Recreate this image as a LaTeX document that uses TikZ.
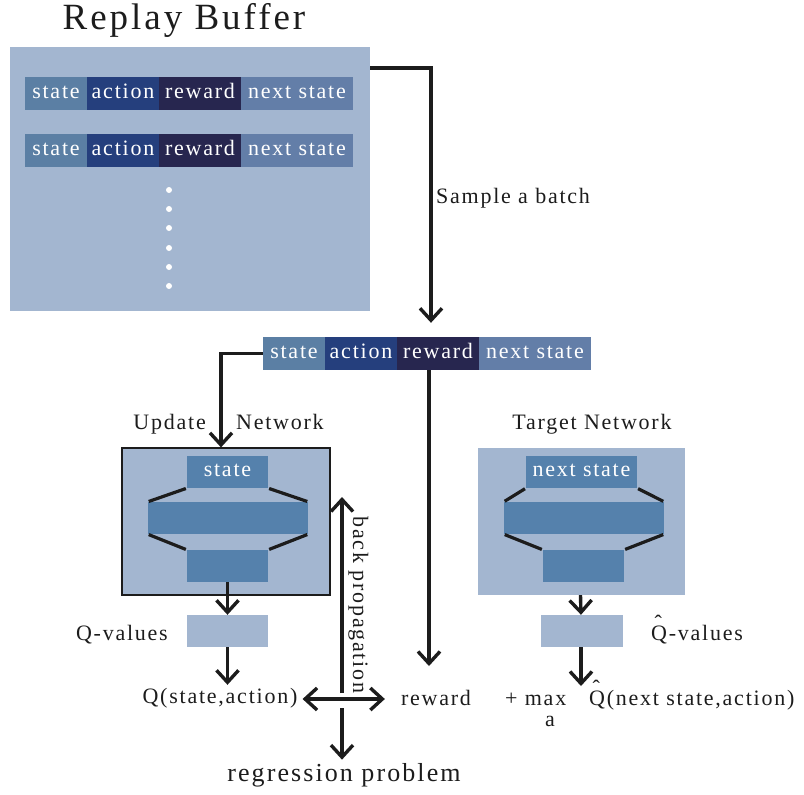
\documentclass[tikz,border=0pt]{standalone}
\usepackage{fontspec}
\setmainfont{Liberation Serif}[LetterSpace=8]
\usetikzlibrary{arrows.meta,calc}
\newcommand\fsz[1]{\fontsize{#1pt}{#1pt}\selectfont}
% Q with a small circumflex set high above it
\newcommand\Qhat{\makebox[0pt][l]{\hspace{0.16em}\raisebox{0.42em}{\char"02C6}}Q}
\definecolor{bufbg}{HTML}{A3B6D0}
\definecolor{cstate}{HTML}{5B7FA4}
\definecolor{caction}{HTML}{253F7D}
\definecolor{creward}{HTML}{27264F}
\definecolor{cnext}{HTML}{637EA8}
\definecolor{layer}{HTML}{5581AC}
\definecolor{ink}{HTML}{1C1C1C}
\tikzset{
  cell/.style={minimum height=33pt, inner sep=0pt, text=white, font=\fsz{22},
    text height=14pt, text depth=5pt},
  layerbox/.style={fill=layer, inner sep=0pt, text=white, font=\fsz{22},
    text height=14pt, text depth=5pt},
  lbl/.style={font=\fsz{22}, text=ink, inner sep=1pt,
    text height=15pt, text depth=5pt},
  arr/.style={draw=ink, line width=3.4pt,
    -{Straight Barb[length=12pt,width=22pt]}},
  link/.style={draw=ink, line width=3.2pt, shorten <=1pt, shorten >=1pt},
}
\begin{document}
\begin{tikzpicture}[x=1pt,y=-1pt]
\useasboundingbox (0,0) rectangle (804,795);

% ---------- replay buffer ----------
\node[font=\fsz{37}, text=ink] (title) at (184,20) {Replay Buffer};
\node[fill=bufbg, minimum width=360pt, minimum height=264pt, inner sep=0pt]
  (buf) at (190,179) {};

\foreach \r/\y in {a/93.5, b/150.5} {
  \node[cell, fill=cstate,  minimum width=62pt]  (s\r) at (56,\y)  {state};
  \node[cell, fill=caction, minimum width=72pt]  (a\r) at (123,\y) {action};
  \node[cell, fill=creward, minimum width=82pt]  (w\r) at (200,\y) {reward};
  \node[cell, fill=cnext,   minimum width=112pt] (n\r) at (297,\y) {next state};
}
\foreach \y in {190,209,228,248,267,286}
  \fill[white] (169,\y) circle (3pt);

% ---------- sampled batch ----------
\node[cell, fill=cstate,  minimum width=62pt]  (bs) at (294,353.5) {state};
\node[cell, fill=caction, minimum width=72pt]  (ba) at (361,353.5) {action};
\node[cell, fill=creward, minimum width=82pt]  (br) at (438,353.5) {reward};
\node[cell, fill=cnext,   minimum width=112pt] (bn) at (535,353.5) {next state};

\draw[arr, shorten >=14pt] ($(buf.north east)+(0,21)$) -| ([xshift=-7pt]br.north);
\node[lbl, anchor=west] (sample) at (435,198) {Sample a batch};

% ---------- update network ----------
\node[lbl, anchor=east] (upd1) at (207,424) {Update};
\node[lbl, anchor=west] (upd2) at (235,424) {Network};
\node[draw=ink, line width=1.2pt, fill=bufbg, minimum width=208pt,
  minimum height=147pt, inner sep=0pt] (ub) at (226,521.5) {};
\node[layerbox, minimum width=81pt, minimum height=32pt] (us) at (227.5,472) {state};
\node[layerbox, minimum width=160pt, minimum height=32pt] (um) at (228,518) {};
\node[layerbox, minimum width=81pt, minimum height=32pt] (ul) at (227.5,566) {};
\draw[link] (us.south west) -- (um.north west);
\draw[link] (us.south east) -- (um.north east);
\draw[link] (um.south west) -- (ul.north west);
\draw[link] (um.south east) -- (ul.north east);

\draw[arr] (bs.west) -| ([xshift=-5pt]ub.north);

\node[fill=bufbg, minimum width=81pt, minimum height=32pt, inner sep=0pt]
  (qv) at (227.5,631) {};
\node[lbl, anchor=east] (qvl) at (169,635) {Q-values};
\draw[arr] (ul.south) -- (qv.north);

\node[lbl] (qsa) at (220,698) {Q(state,action)};
\draw[arr, shorten >=2pt] (qv.south) -- (qsa.north -| qv.south);

% ---------- target network ----------
\node[lbl] (tgt) at (592,424) {Target Network};
\node[fill=bufbg, minimum width=207pt, minimum height=147pt, inner sep=0pt]
  (tb) at (581.5,521.5) {};
\node[layerbox, minimum width=111pt, minimum height=32pt] (ts) at (581.5,472) {next state};
\node[layerbox, minimum width=160pt, minimum height=32pt] (tm) at (584,518) {};
\node[layerbox, minimum width=81pt, minimum height=32pt] (tl) at (583.5,566) {};
\draw[link] (ts.south west) -- (tm.north west);
\draw[link] (ts.south east) -- (tm.north east);
\draw[link] (tm.south west) -- (tl.north west);
\draw[link] (tm.south east) -- (tl.north east);

\node[fill=bufbg, minimum width=82pt, minimum height=32pt, inner sep=0pt]
  (tq) at (582,631) {};
\node[lbl, anchor=west] (tql) at (650,635) {\Qhat-values};
\draw[arr] ([xshift=-1pt]tb.south) -- ([xshift=-1pt]tq.north);

\node[lbl, anchor=west, inner sep=0pt] (plus) at (505,700) {+ max};
\node[lbl, inner sep=0pt, text height=11pt, text depth=1pt] (sub) at (550,721) {a};
\node[lbl, anchor=west] (tqsa) at (588,700) {\Qhat(next state,action)};
\coordinate (tend) at (581,686);
\draw[arr] ([xshift=-1pt]tq.south) -- (tend);

% ---------- reward and regression target ----------
\node[lbl] (rw) at (436,700) {reward};
\coordinate (rend) at (429,666);
\draw[arr] ([xshift=-9pt]br.south) -- (rend);

\coordinate (bp) at (342,699);
\coordinate (bptop) at (342,497);
\draw[arr] ($(bp)+(0,-6)$) -- (bptop);
\node[lbl, rotate=-90] (bpl) at (358,605) {back propagation};
\draw[draw=ink, line width=3.4pt,
  {Straight Barb[length=12pt,width=22pt]}-{Straight Barb[length=12pt,width=22pt]},
  shorten <=4pt, shorten >=15pt] (qsa.east |- bp) -- (rw.west |- bp);

\node[font=\fsz{26}, text=ink] (reg) at (344,775) {regression problem};
\draw[arr] ($(bp)+(0,9)$) -- (reg.north -| bp);
\end{tikzpicture}
\end{document}
